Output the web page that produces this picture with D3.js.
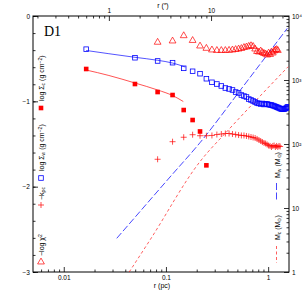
<!DOCTYPE html>
<html>
<head>
<meta charset="utf-8">
<script src="https://cdn.jsdelivr.net/npm/d3@7"></script>
<style>
  body { margin: 0; background: #fff; }
  svg { display: block; }
</style>
</head>
<body>
<svg id="chart" width="305" height="305"></svg>
<script>
// pc per arcsec for the adopted distance
const pcPerArcsec = 0.02763;

// annulus radii (arcsec)
const radii = [0.6, 1.8, 3.0, 4.2, 5.4, 6.6, 7.8, 9.0, 10.2, 11.4, 12.6, 13.8, 15.0, 16.2,
  17.4, 18.6, 19.8, 21.0, 22.2, 23.4, 24.6, 25.8, 27.0, 28.2, 29.4, 30.6, 31.8, 33.0, 34.2,
  35.4, 36.6, 37.8, 39.0, 40.2, 41.4, 42.6, 43.8, 45.0, 46.2, 47.4, 48.6, 49.8, 51.0, 52.2,
  53.4, 54.6, 55.8, 57.0];

// log Sigma_w (g cm^-2), one per radius
const sigmaW = [-0.389, -0.489, -0.527, -0.547, -0.613, -0.648, -0.676, -0.735, -0.777,
  -0.797, -0.820, -0.844, -0.855, -0.867, -0.891, -0.902, -0.926, -0.938, -0.949, -0.973,
  -0.984, -0.996, -1.008, -1.020, -1.025, -1.031, -1.025, -1.037, -1.031, -1.031, -1.037,
  -1.043, -1.043, -1.049, -1.055, -1.061, -1.066, -1.072, -1.078, -1.084, -1.090, -1.090,
  -1.090, -1.090, -1.084, -1.078, -1.066, -1.066];

// log Sigma_c (g cm^-2), first 8 radii
const sigmaC = [-0.621, -0.797, -0.891, -0.926, -1.102, -1.219, -1.353, -1.750];

// -log chi^2, from the 3rd radius on
const chi2 = [-0.308, -0.293, -0.231, -0.287, -0.352, -0.379, -0.398, -0.404, -0.404, -0.404,
  -0.402, -0.398, -0.393, -0.387, -0.381, -0.369, -0.363, -0.355, -0.348, -0.357, -0.387,
  -0.416, -0.422, -0.410, -0.428, -0.439, -0.445, -0.457, -0.434, -0.451, -0.422, -0.434,
  -0.410, -0.398, -0.393, -0.404];

// -k_rho, from the 3rd radius on
const kRho = [-1.679, -1.473, -1.421, -1.391, -1.403, -1.403, -1.400, -1.389, -1.383, -1.377,
  -1.377, -1.383, -1.389, -1.395, -1.400, -1.400, -1.406, -1.412, -1.418, -1.424, -1.430,
  -1.441, -1.453, -1.465, -1.477, -1.488, -1.494, -1.506, -1.518, -1.523, -1.535, -1.523,
  -1.518, -1.535, -1.523, -1.535, -1.523, -1.529];

// fitted profiles (arcsec, log Sigma)
const fitWR = [0.6, 1.0, 1.8, 3.0, 4.2, 5.6];
const fitW = [-0.404, -0.442, -0.484, -0.519, -0.551, -0.598];
const fitCR = [0.6, 1.0, 1.8, 3.0, 4.2, 5.35];
const fitC = [-0.633, -0.697, -0.785, -0.867, -0.932, -1.002];

// enclosed masses (pc, Msun)
const massWR = [0.033, 0.1096, 0.2155, 0.568, 1.54];
const massW = [3.36, 30.5, 105, 789, 6420];
const massCR = [0.0437, 0.0698, 0.215, 0.407, 0.69, 1.57];
const massC = [1.0, 3.16, 52.9, 165, 407, 1614];

// ticks
const xMajor = [0.01, 0.1, 1];
const xTopMajor = [1, 10];
const yMajor = [0, -1, -2, -3];
const mMajor = [1, 10, 100, 1000, 10000];
const mLabels = ["1", "10", "10²", "10³", "10⁴"];

const red = "#ff0000", blue = "#0000ff";
const font = "Liberation Sans, Arial, sans-serif";

const frame = { l: 33, r: 289, t: 16, b: 272 };

const x = d3.scaleLog().domain([0.005, 1.6]).range([frame.l, frame.r]);
const xTop = d3.scaleLog().domain([0.005 / pcPerArcsec, 1.6 / pcPerArcsec]).range([frame.l, frame.r]);
const y = d3.scaleLinear().domain([-3, 0]).range([frame.b, frame.t]);
const yM = d3.scaleLog().domain([1, 1e4]).range([frame.b, frame.t]);

const minorLog = (lo, hi) => {
  const out = [];
  for (let e = Math.floor(Math.log10(lo)); e <= Math.ceil(Math.log10(hi)); e++)
    for (let m = 2; m <= 9; m++) {
      const v = m * Math.pow(10, e);
      if (v > lo && v < hi) out.push(v);
    }
  return out;
};

const svg = d3.select("#chart");

svg.append("defs").append("clipPath").attr("id", "clip")
  .append("rect").attr("x", frame.l).attr("y", frame.t)
  .attr("width", frame.r - frame.l).attr("height", frame.b - frame.t);

const styleAxis = g => {
  g.select(".domain").remove();
  g.selectAll(".tick line").attr("stroke", "#000").attr("stroke-width", 0.8);
  g.selectAll(".tick text").attr("font-family", font).attr("font-size", 6.5).attr("fill", "#000");
};

// bottom
svg.append("g").attr("transform", `translate(0,${frame.b})`)
  .call(d3.axisBottom(x).tickValues(minorLog(0.005, 1.6)).tickSize(-2.5).tickFormat(""))
  .call(styleAxis);
svg.append("g").attr("transform", `translate(0,${frame.b})`)
  .call(d3.axisBottom(x).tickValues(xMajor).tickSize(-5).tickPadding(3).tickFormat(d => String(d)))
  .call(styleAxis);

// top
svg.append("g").attr("transform", `translate(0,${frame.t})`)
  .call(d3.axisTop(xTop).tickValues(minorLog(xTop.domain()[0], xTop.domain()[1])).tickSize(-2.5).tickFormat(""))
  .call(styleAxis);
svg.append("g").attr("transform", `translate(0,${frame.t})`)
  .call(d3.axisTop(xTop).tickValues(xTopMajor).tickSize(-5).tickPadding(3).tickFormat(d => String(d)))
  .call(styleAxis);

// left
svg.append("g").attr("transform", `translate(${frame.l},0)`)
  .call(d3.axisLeft(y).tickValues(d3.range(-3, 0.01, 0.2)).tickSize(-2.5).tickFormat(""))
  .call(styleAxis);
svg.append("g").attr("transform", `translate(${frame.l},0)`)
  .call(d3.axisLeft(y).tickValues(yMajor).tickSize(-5).tickPadding(3)
    .tickFormat(d => d === 0 ? "0" : "−" + Math.abs(d)))
  .call(styleAxis);

// right
svg.append("g").attr("transform", `translate(${frame.r},0)`)
  .call(d3.axisRight(yM).tickValues(minorLog(1, 1e4)).tickSize(-2.5).tickFormat(""))
  .call(styleAxis);
svg.append("g").attr("transform", `translate(${frame.r},0)`)
  .call(d3.axisRight(yM).tickValues(mMajor).tickSize(-5).tickPadding(3)
    .tickFormat((d, i) => mLabels[i]))
  .call(styleAxis);

// frame
svg.append("rect").attr("x", frame.l).attr("y", frame.t)
  .attr("width", frame.r - frame.l).attr("height", frame.b - frame.t)
  .attr("fill", "none").attr("stroke", "#000").attr("stroke-width", 1);

// axis titles
svg.append("text").attr("x", 162).attr("y", 288).attr("text-anchor", "middle")
  .attr("font-family", font).attr("font-size", 7).text("r (pc)");
svg.append("text").attr("x", 163).attr("y", 8).attr("text-anchor", "middle")
  .attr("font-family", font).attr("font-size", 7).text("r (″)");

svg.append("text").attr("x", 44).attr("y", 36)
  .attr("font-family", "Liberation Serif, Times New Roman, serif").attr("font-size", 14)
  .text("D1");

const plot = svg.append("g").attr("clip-path", "url(#clip)");
const pc = a => a * pcPerArcsec;

// mass curves
const massLine = d3.line().x(d => x(d[0])).y(d => yM(d[1])).curve(d3.curveMonotoneX);
plot.append("path").datum(d3.zip(massWR, massW))
  .attr("d", massLine).attr("fill", "none").attr("stroke", blue).attr("stroke-opacity", 0.8)
  .attr("stroke-width", 0.9).attr("stroke-dasharray", "7,2.5");
plot.append("path").datum(d3.zip(massCR, massC))
  .attr("d", massLine).attr("fill", "none").attr("stroke", red).attr("stroke-opacity", 0.7)
  .attr("stroke-width", 0.9).attr("stroke-dasharray", "3,2.5");

// fitted profiles
const fitLine = d3.line().x(d => x(pc(d[0]))).y(d => y(d[1])).curve(d3.curveMonotoneX);
plot.append("path").datum(d3.zip(fitWR, fitW))
  .attr("d", fitLine).attr("fill", "none").attr("stroke", blue).attr("stroke-opacity", 0.75)
  .attr("stroke-width", 0.9);
plot.append("path").datum(d3.zip(fitCR, fitC))
  .attr("d", fitLine).attr("fill", "none").attr("stroke", red).attr("stroke-opacity", 0.75)
  .attr("stroke-width", 0.9);

// markers
const sq = 4.6;
plot.selectAll(".sw").data(d3.zip(radii, sigmaW)).join("rect")
  .attr("class", "sw")
  .attr("x", d => x(pc(d[0])) - sq / 2).attr("y", d => y(d[1]) - sq / 2)
  .attr("width", sq).attr("height", sq)
  .attr("fill", "none").attr("stroke", blue).attr("stroke-width", 0.8);

plot.selectAll(".sc").data(d3.zip(radii.slice(0, sigmaC.length), sigmaC)).join("rect")
  .attr("class", "sc")
  .attr("x", d => x(pc(d[0])) - sq / 2).attr("y", d => y(d[1]) - sq / 2)
  .attr("width", sq).attr("height", sq).attr("fill", red);

const tri = d3.symbol().type(d3.symbolTriangle).size(20);
plot.selectAll(".chi").data(d3.zip(radii.slice(2, 2 + chi2.length), chi2)).join("path")
  .attr("class", "chi")
  .attr("transform", d => `translate(${x(pc(d[0]))},${y(d[1])})`)
  .attr("d", tri).attr("fill", "none").attr("stroke", red).attr("stroke-width", 0.7);

plot.selectAll(".kr").data(d3.zip(radii.slice(2, 2 + kRho.length), kRho)).join("path")
  .attr("class", "kr")
  .attr("transform", d => `translate(${x(pc(d[0]))},${y(d[1])})`)
  .attr("d", "M-3,0H3M0,-3V3").attr("fill", "none").attr("stroke", red).attr("stroke-width", 0.7);

// legends (rotated text)
const rot = (gx, gy) => `translate(${gx},${gy}) rotate(-90)`;
const leg = svg.append("g").attr("font-family", font).attr("font-size", 7);

const legText = (gx, gy, parts) => {
  const t = leg.append("text").attr("transform", rot(gx, gy));
  parts.forEach(p => {
    const s = t.append("tspan").text(p[0]);
    if (p[1] === "sub") s.attr("baseline-shift", "-25%").attr("font-size", 5);
    if (p[1] === "sup") s.attr("baseline-shift", "40%").attr("font-size", 5);
  });
};

legText(43.5, 101, [["log Σ"], ["c", "sub"], [" (g cm"], ["−2", "sup"], [")"]]);
legText(43.5, 171, [["log Σ"], ["w", "sub"], [" (g cm"], ["−2", "sup"], [")"]]);
legText(43.5, 200, [["−k"], ["ρc", "sub"]]);
legText(43.5, 256, [["−log χ"], ["2", "sup"]]);

leg.append("rect").attr("x", 41 - sq / 2).attr("y", 108 - sq / 2).attr("width", sq).attr("height", sq).attr("fill", red);
leg.append("rect").attr("x", 41 - sq / 2).attr("y", 178 - sq / 2).attr("width", sq).attr("height", sq)
  .attr("fill", "none").attr("stroke", blue).attr("stroke-width", 0.8);
leg.append("path").attr("transform", "translate(41,205)").attr("d", "M-3,0H3M0,-3V3")
  .attr("stroke", red).attr("stroke-width", 0.7);
leg.append("path").attr("transform", "translate(41,262)").attr("d", tri)
  .attr("fill", "none").attr("stroke", red).attr("stroke-width", 0.7);

legText(279.5, 178, [["M"], ["w", "sub"], [" (M"], ["⊙", "sub"], [")"]]);
legText(279.5, 240, [["M"], ["c", "sub"], [" (M"], ["⊙", "sub"], [")"]]);
leg.append("line").attr("x1", 276.5).attr("x2", 276.5).attr("y1", 183).attr("y2", 200)
  .attr("stroke", blue).attr("stroke-opacity", 0.8).attr("stroke-width", 0.9).attr("stroke-dasharray", "7,2.5");
leg.append("line").attr("x1", 276.5).attr("x2", 276.5).attr("y1", 246).attr("y2", 263)
  .attr("stroke", red).attr("stroke-opacity", 0.7).attr("stroke-width", 0.9).attr("stroke-dasharray", "3,2.5");
</script>
</body>
</html>
